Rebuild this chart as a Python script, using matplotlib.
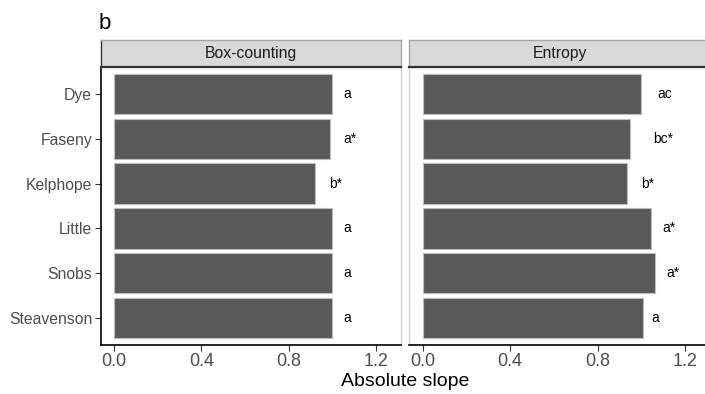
import matplotlib
matplotlib.use("Agg")
import matplotlib.pyplot as plt

plt.rcParams['font.family'] = ['Liberation Sans', 'DejaVu Sans']

sites = ["Dye", "Faseny", "Kelphope", "Little", "Snobs", "Steavenson"]
panels = ["Box-counting", "Entropy"]
box_values = [1.00, 0.988, 0.92, 1.00, 1.00, 1.00]
entropy_values = [1.00, 0.947, 0.934, 1.043, 1.062, 1.007]
box_labels = ["a", "a*", "b*", "a", "a", "a"]
entropy_labels = ["ac", "bc*", "b*", "a*", "a*", "a"]
box_label_x = [1.07, 1.08, 1.016, 1.07, 1.07, 1.07]
entropy_label_x = [1.108, 1.098, 1.03, 1.126, 1.144, 1.062]
xticks = [0.0, 0.4, 0.8, 1.2]
xtick_labels = ["0.0", "0.4", "0.8", "1.2"]

W, H = 705, 394
fig = plt.figure(figsize=(W / 100, H / 100), dpi=100)

def fx(px):
    return px / W

def fy(py):
    return 1 - py / H

plot_top, plot_bot = 67, 345
strip_top = 40
panel_x = [(100.5, 401), (409, 710)]
data = [(box_values, box_labels, box_label_x), (entropy_values, entropy_labels, entropy_label_x)]

ypos = list(range(len(sites)))
for i, ((x0, x1), name, (vals, labs, labx)) in enumerate(zip(panel_x, panels, data)):
    ax = fig.add_axes([fx(x0), fy(plot_bot), fx(x1) - fx(x0), fy(plot_top) - fy(plot_bot)])
    ax.barh(ypos, vals, height=0.9, color="#595959", edgecolor="#bdbdbd", linewidth=0.8, zorder=2)
    for y, lx, t in zip(ypos, labx, labs):
        ax.text(lx, y, t, ha="center", va="center", fontsize=10, color="black")
    ax.set_xlim(-0.062, 1.314)
    ax.set_ylim(len(sites) - 0.4, -0.6)
    ax.set_xticks(xticks)
    ax.set_xticklabels(xtick_labels, fontsize=13, color="#4d4d4d")
    ax.tick_params(axis="x", length=4, width=0.8, color="#333333", pad=2)
    for s in ["top", "right", "left"]:
        ax.spines[s].set_color("#d4d4d4")
        ax.spines[s].set_linewidth(1.0)
    ax.spines["bottom"].set_color("black")
    ax.spines["bottom"].set_linewidth(1.2)
    if i == 0:
        ax.set_yticks(ypos)
        ax.set_yticklabels(sites, fontsize=11.3, color="#4d4d4d")
        ax.tick_params(axis="y", length=4, width=0.8, color="#333333", pad=2)
        ax.spines["left"].set_color("black")
        ax.spines["left"].set_linewidth(1.2)
    else:
        ax.set_yticks([])
    # strip
    sax = fig.add_axes([fx(x0), fy(plot_top), fx(x1) - fx(x0), fy(strip_top) - fy(plot_top)])
    sax.set_xlim(0, 1)
    sax.set_ylim(0, 1)
    sax.set_xticks([])
    sax.set_yticks([])
    sax.set_facecolor("#d9d9d9")
    for s in ["top", "left", "right"]:
        sax.spines[s].set_color("#a6a6a6")
        sax.spines[s].set_linewidth(1.0)
    sax.spines["bottom"].set_color("#333333")
    sax.spines["bottom"].set_linewidth(1.6)
    if i == 0:
        sax.spines["left"].set_color("#333333")
    fig.text(fx((x0 + x1) / 2), fy((strip_top + plot_top) / 2), name,
             ha="center", va="center", fontsize=11.3, color="#1a1a1a")

fig.text(fx(405), fy(382), "Absolute slope", ha="center", va="center", fontsize=14, color="black")
fig.text(fx(99), fy(29), "b", ha="left", va="baseline", fontsize=16, color="black")

fig.savefig("out.png", dpi=100)
